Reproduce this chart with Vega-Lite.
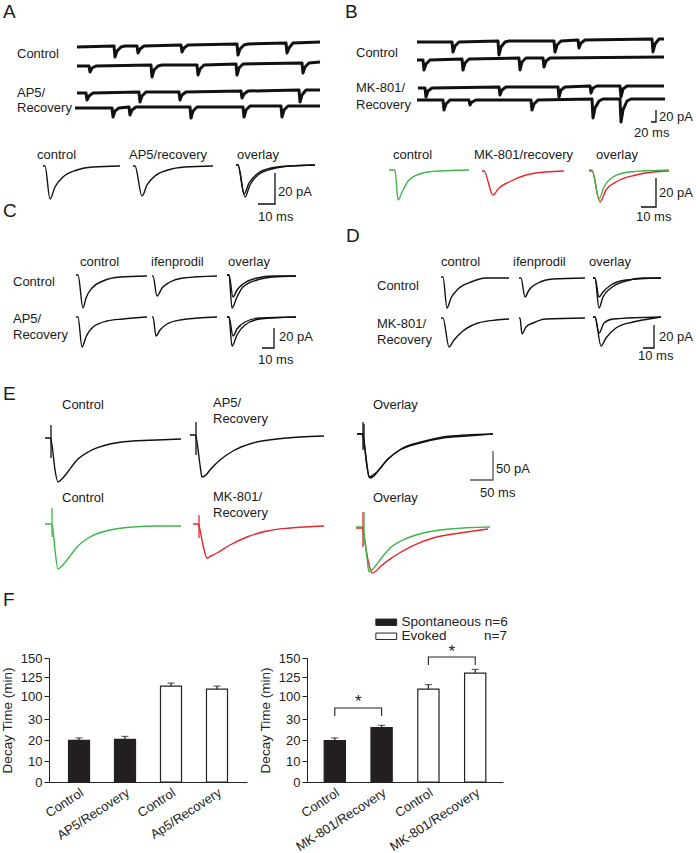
{
"$schema": "https://vega.github.io/schema/vega-lite/v6.json",
"padding": 0,
"background": "white",
"bounds": "flush",
"spacing": 0,
"config": {"view": {"stroke": null}, "font": "Liberation Sans"},
"datasets": {
"raw": [
{"s":"a1","x":77,"y":47},{"s":"a1","x":114,"y":46},{"s":"a1","x":115,"y":57},{"s":"a1","x":117,"y":51},{"s":"a1","x":121,"y":47},{"s":"a1","x":125,"y":46},{"s":"a1","x":137,"y":46},{"s":"a1","x":138,"y":53},{"s":"a1","x":140,"y":49},{"s":"a1","x":144,"y":46},{"s":"a1","x":181,"y":45},{"s":"a1","x":182,"y":52},{"s":"a1","x":184,"y":48},{"s":"a1","x":188,"y":45},{"s":"a1","x":237,"y":44},{"s":"a1","x":238,"y":55},{"s":"a1","x":240,"y":49},{"s":"a1","x":244,"y":45},{"s":"a1","x":248,"y":44},{"s":"a1","x":286,"y":43},{"s":"a1","x":287,"y":53},{"s":"a1","x":289,"y":48},{"s":"a1","x":293,"y":43},{"s":"a1","x":320,"y":42},
{"s":"a2","x":77,"y":66},{"s":"a2","x":89,"y":66},{"s":"a2","x":90,"y":72},{"s":"a2","x":92,"y":68},{"s":"a2","x":96,"y":66},{"s":"a2","x":151,"y":65},{"s":"a2","x":152,"y":77},{"s":"a2","x":154,"y":70},{"s":"a2","x":158,"y":66},{"s":"a2","x":162,"y":65},{"s":"a2","x":197,"y":65},{"s":"a2","x":198,"y":75},{"s":"a2","x":200,"y":69},{"s":"a2","x":204,"y":65},{"s":"a2","x":236,"y":64},{"s":"a2","x":237,"y":75},{"s":"a2","x":239,"y":68},{"s":"a2","x":243,"y":64},{"s":"a2","x":302,"y":63},{"s":"a2","x":303,"y":73},{"s":"a2","x":305,"y":67},{"s":"a2","x":309,"y":63},{"s":"a2","x":320,"y":62},
{"s":"a3","x":77,"y":93},{"s":"a3","x":86,"y":93},{"s":"a3","x":87,"y":100},{"s":"a3","x":89,"y":96},{"s":"a3","x":93,"y":93},{"s":"a3","x":139,"y":92},{"s":"a3","x":140,"y":102},{"s":"a3","x":142,"y":96},{"s":"a3","x":146,"y":92},{"s":"a3","x":150,"y":92},{"s":"a3","x":179,"y":92},{"s":"a3","x":180,"y":100},{"s":"a3","x":182,"y":95},{"s":"a3","x":186,"y":92},{"s":"a3","x":241,"y":91},{"s":"a3","x":242,"y":98},{"s":"a3","x":244,"y":94},{"s":"a3","x":248,"y":91},{"s":"a3","x":299,"y":90},{"s":"a3","x":300,"y":102},{"s":"a3","x":302,"y":95},{"s":"a3","x":306,"y":90},{"s":"a3","x":320,"y":90},
{"s":"a4","x":75,"y":108},{"s":"a4","x":112,"y":108},{"s":"a4","x":113,"y":117},{"s":"a4","x":115,"y":111},{"s":"a4","x":119,"y":108},{"s":"a4","x":129,"y":107},{"s":"a4","x":130,"y":115},{"s":"a4","x":132,"y":110},{"s":"a4","x":136,"y":107},{"s":"a4","x":190,"y":107},{"s":"a4","x":191,"y":118},{"s":"a4","x":193,"y":111},{"s":"a4","x":197,"y":107},{"s":"a4","x":243,"y":107},{"s":"a4","x":244,"y":117},{"s":"a4","x":246,"y":110},{"s":"a4","x":250,"y":106},{"s":"a4","x":281,"y":106},{"s":"a4","x":282,"y":117},{"s":"a4","x":284,"y":110},{"s":"a4","x":288,"y":106},{"s":"a4","x":320,"y":106},
{"s":"b1","x":417,"y":42},{"s":"b1","x":452,"y":42},{"s":"b1","x":453,"y":52},{"s":"b1","x":455,"y":46},{"s":"b1","x":459,"y":42},{"s":"b1","x":498,"y":41},{"s":"b1","x":499,"y":55},{"s":"b1","x":501,"y":47},{"s":"b1","x":505,"y":42},{"s":"b1","x":509,"y":41},{"s":"b1","x":554,"y":41},{"s":"b1","x":555,"y":52},{"s":"b1","x":557,"y":45},{"s":"b1","x":561,"y":41},{"s":"b1","x":578,"y":40},{"s":"b1","x":579,"y":48},{"s":"b1","x":581,"y":43},{"s":"b1","x":585,"y":40},{"s":"b1","x":652,"y":39},{"s":"b1","x":653,"y":52},{"s":"b1","x":655,"y":44},{"s":"b1","x":659,"y":39},{"s":"b1","x":664,"y":39},
{"s":"b2","x":417,"y":60},{"s":"b2","x":423,"y":60},{"s":"b2","x":424,"y":70},{"s":"b2","x":426,"y":64},{"s":"b2","x":430,"y":60},{"s":"b2","x":462,"y":59},{"s":"b2","x":463,"y":70},{"s":"b2","x":465,"y":63},{"s":"b2","x":469,"y":59},{"s":"b2","x":519,"y":58},{"s":"b2","x":520,"y":70},{"s":"b2","x":522,"y":62},{"s":"b2","x":526,"y":58},{"s":"b2","x":543,"y":58},{"s":"b2","x":544,"y":67},{"s":"b2","x":546,"y":61},{"s":"b2","x":550,"y":58},{"s":"b2","x":664,"y":57},
{"s":"b3","x":418,"y":88},{"s":"b3","x":425,"y":88},{"s":"b3","x":426,"y":97},{"s":"b3","x":428,"y":91},{"s":"b3","x":432,"y":88},{"s":"b3","x":499,"y":87},{"s":"b3","x":500,"y":95},{"s":"b3","x":502,"y":90},{"s":"b3","x":506,"y":87},{"s":"b3","x":558,"y":87},{"s":"b3","x":559,"y":97},{"s":"b3","x":561,"y":90},{"s":"b3","x":565,"y":87},{"s":"b3","x":590,"y":86},{"s":"b3","x":591,"y":93},{"s":"b3","x":593,"y":88},{"s":"b3","x":597,"y":86},{"s":"b3","x":620,"y":86},{"s":"b3","x":621,"y":97},{"s":"b3","x":623,"y":89},{"s":"b3","x":627,"y":86},{"s":"b3","x":664,"y":86},
{"s":"b4","x":417,"y":100},{"s":"b4","x":443,"y":100},{"s":"b4","x":444,"y":110},{"s":"b4","x":446,"y":104},{"s":"b4","x":450,"y":100},{"s":"b4","x":469,"y":100},{"s":"b4","x":470,"y":105},{"s":"b4","x":472,"y":102},{"s":"b4","x":476,"y":100},{"s":"b4","x":531,"y":100},{"s":"b4","x":532,"y":110},{"s":"b4","x":534,"y":104},{"s":"b4","x":538,"y":100},{"s":"b4","x":592,"y":99},{"s":"b4","x":593,"y":118},{"s":"b4","x":595,"y":108},{"s":"b4","x":599,"y":101},{"s":"b4","x":603,"y":99},{"s":"b4","x":620,"y":99},{"s":"b4","x":621,"y":122},{"s":"b4","x":623,"y":110},{"s":"b4","x":627,"y":101},{"s":"b4","x":631,"y":99},{"s":"b4","x":665,"y":99}
],
"avg": [
{"s":"A1","c":"k","x":43,"y":166},{"s":"A1","c":"k","x":45,"y":166},{"s":"A1","c":"k","x":50,"y":199},{"s":"A1","c":"k","x":55,"y":187},{"s":"A1","c":"k","x":63,"y":177},{"s":"A1","c":"k","x":77,"y":170},{"s":"A1","c":"k","x":93,"y":167},{"s":"A1","c":"k","x":120,"y":166},
{"s":"A2","c":"k","x":133,"y":166},{"s":"A2","c":"k","x":135,"y":166},{"s":"A2","c":"k","x":142,"y":196},{"s":"A2","c":"k","x":147,"y":185},{"s":"A2","c":"k","x":155,"y":176},{"s":"A2","c":"k","x":168,"y":170},{"s":"A2","c":"k","x":185,"y":167},{"s":"A2","c":"k","x":213,"y":166},
{"s":"A3","c":"k","x":236,"y":165},{"s":"A3","c":"k","x":238,"y":165},{"s":"A3","c":"k","x":245,"y":197},{"s":"A3","c":"k","x":250,"y":185},{"s":"A3","c":"k","x":258,"y":175},{"s":"A3","c":"k","x":272,"y":169},{"s":"A3","c":"k","x":290,"y":166},{"s":"A3","c":"k","x":315,"y":165},
{"s":"A4","c":"k","x":236,"y":165},{"s":"A4","c":"k","x":238,"y":165},{"s":"A4","c":"k","x":244,"y":194},{"s":"A4","c":"k","x":249,"y":183},{"s":"A4","c":"k","x":257,"y":174},{"s":"A4","c":"k","x":271,"y":168},{"s":"A4","c":"k","x":290,"y":166},{"s":"A4","c":"k","x":315,"y":165},
{"s":"B1","c":"g","x":389,"y":170},{"s":"B1","c":"g","x":395,"y":170},{"s":"B1","c":"g","x":398,"y":200},{"s":"B1","c":"g","x":403,"y":190},{"s":"B1","c":"g","x":409,"y":180},{"s":"B1","c":"g","x":423,"y":173},{"s":"B1","c":"g","x":439,"y":171},{"s":"B1","c":"g","x":469,"y":170},
{"s":"B2","c":"r","x":482,"y":171},{"s":"B2","c":"r","x":484,"y":171},{"s":"B2","c":"r","x":493,"y":195},{"s":"B2","c":"r","x":499,"y":188},{"s":"B2","c":"r","x":509,"y":182},{"s":"B2","c":"r","x":526,"y":175},{"s":"B2","c":"r","x":546,"y":172},{"s":"B2","c":"r","x":564,"y":171},
{"s":"B4","c":"r","x":589,"y":171},{"s":"B4","c":"r","x":592,"y":171},{"s":"B4","c":"r","x":600,"y":202},{"s":"B4","c":"r","x":606,"y":190},{"s":"B4","c":"r","x":616,"y":182},{"s":"B4","c":"r","x":636,"y":175},{"s":"B4","c":"r","x":653,"y":172},{"s":"B4","c":"r","x":669,"y":171},
{"s":"B3","c":"g","x":589,"y":170},{"s":"B3","c":"g","x":592,"y":170},{"s":"B3","c":"g","x":599,"y":199},{"s":"B3","c":"g","x":604,"y":187},{"s":"B3","c":"g","x":613,"y":177},{"s":"B3","c":"g","x":629,"y":172},{"s":"B3","c":"g","x":669,"y":170},
{"s":"C1","c":"k","x":76,"y":275},{"s":"C1","c":"k","x":78,"y":275},{"s":"C1","c":"k","x":83,"y":308},{"s":"C1","c":"k","x":86,"y":298},{"s":"C1","c":"k","x":92,"y":288},{"s":"C1","c":"k","x":103,"y":281},{"s":"C1","c":"k","x":120,"y":277},{"s":"C1","c":"k","x":147,"y":276},
{"s":"C2","c":"k","x":152,"y":276},{"s":"C2","c":"k","x":153,"y":276},{"s":"C2","c":"k","x":157,"y":296},{"s":"C2","c":"k","x":162,"y":288},{"s":"C2","c":"k","x":170,"y":282},{"s":"C2","c":"k","x":183,"y":278},{"s":"C2","c":"k","x":217,"y":276},
{"s":"C3","c":"k","x":227,"y":275},{"s":"C3","c":"k","x":229,"y":275},{"s":"C3","c":"k","x":232,"y":308},{"s":"C3","c":"k","x":237,"y":297},{"s":"C3","c":"k","x":243,"y":287},{"s":"C3","c":"k","x":257,"y":280},{"s":"C3","c":"k","x":273,"y":277},{"s":"C3","c":"k","x":296,"y":276},
{"s":"C4","c":"k","x":227,"y":275},{"s":"C4","c":"k","x":229,"y":275},{"s":"C4","c":"k","x":233,"y":297},{"s":"C4","c":"k","x":237,"y":290},{"s":"C4","c":"k","x":243,"y":284},{"s":"C4","c":"k","x":257,"y":278},{"s":"C4","c":"k","x":273,"y":276},{"s":"C4","c":"k","x":296,"y":276},
{"s":"C5","c":"k","x":76,"y":317},{"s":"C5","c":"k","x":78,"y":317},{"s":"C5","c":"k","x":82,"y":347},{"s":"C5","c":"k","x":86,"y":337},{"s":"C5","c":"k","x":93,"y":327},{"s":"C5","c":"k","x":107,"y":321},{"s":"C5","c":"k","x":123,"y":319},{"s":"C5","c":"k","x":147,"y":317},
{"s":"C6","c":"k","x":152,"y":317},{"s":"C6","c":"k","x":153,"y":317},{"s":"C6","c":"k","x":156,"y":336},{"s":"C6","c":"k","x":160,"y":330},{"s":"C6","c":"k","x":167,"y":324},{"s":"C6","c":"k","x":180,"y":320},{"s":"C6","c":"k","x":217,"y":317},
{"s":"C7","c":"k","x":227,"y":317},{"s":"C7","c":"k","x":229,"y":317},{"s":"C7","c":"k","x":232,"y":346},{"s":"C7","c":"k","x":237,"y":335},{"s":"C7","c":"k","x":245,"y":325},{"s":"C7","c":"k","x":260,"y":319},{"s":"C7","c":"k","x":296,"y":317},
{"s":"C8","c":"k","x":227,"y":317},{"s":"C8","c":"k","x":229,"y":317},{"s":"C8","c":"k","x":233,"y":336},{"s":"C8","c":"k","x":237,"y":329},{"s":"C8","c":"k","x":245,"y":322},{"s":"C8","c":"k","x":260,"y":318},{"s":"C8","c":"k","x":296,"y":317},
{"s":"D1","c":"k","x":441,"y":277},{"s":"D1","c":"k","x":443,"y":277},{"s":"D1","c":"k","x":447,"y":308},{"s":"D1","c":"k","x":451,"y":298},{"s":"D1","c":"k","x":458,"y":289},{"s":"D1","c":"k","x":471,"y":282},{"s":"D1","c":"k","x":486,"y":278},{"s":"D1","c":"k","x":509,"y":278},
{"s":"D2","c":"k","x":519,"y":278},{"s":"D2","c":"k","x":521,"y":278},{"s":"D2","c":"k","x":525,"y":297},{"s":"D2","c":"k","x":529,"y":290},{"s":"D2","c":"k","x":538,"y":283},{"s":"D2","c":"k","x":553,"y":279},{"s":"D2","c":"k","x":585,"y":278},
{"s":"D3","c":"k","x":593,"y":278},{"s":"D3","c":"k","x":595,"y":278},{"s":"D3","c":"k","x":599,"y":308},{"s":"D3","c":"k","x":603,"y":297},{"s":"D3","c":"k","x":611,"y":288},{"s":"D3","c":"k","x":626,"y":281},{"s":"D3","c":"k","x":643,"y":278},{"s":"D3","c":"k","x":661,"y":278},
{"s":"D4","c":"k","x":593,"y":278},{"s":"D4","c":"k","x":595,"y":278},{"s":"D4","c":"k","x":599,"y":297},{"s":"D4","c":"k","x":603,"y":292},{"s":"D4","c":"k","x":611,"y":285},{"s":"D4","c":"k","x":626,"y":280},{"s":"D4","c":"k","x":661,"y":278},
{"s":"D5","c":"k","x":441,"y":318},{"s":"D5","c":"k","x":443,"y":318},{"s":"D5","c":"k","x":449,"y":347},{"s":"D5","c":"k","x":454,"y":340},{"s":"D5","c":"k","x":463,"y":331},{"s":"D5","c":"k","x":478,"y":323},{"s":"D5","c":"k","x":496,"y":320},{"s":"D5","c":"k","x":509,"y":319},
{"s":"D6","c":"k","x":519,"y":318},{"s":"D6","c":"k","x":520,"y":318},{"s":"D6","c":"k","x":522,"y":334},{"s":"D6","c":"k","x":526,"y":327},{"s":"D6","c":"k","x":533,"y":323},{"s":"D6","c":"k","x":546,"y":319},{"s":"D6","c":"k","x":585,"y":318},
{"s":"D7","c":"k","x":593,"y":317},{"s":"D7","c":"k","x":595,"y":317},{"s":"D7","c":"k","x":601,"y":346},{"s":"D7","c":"k","x":606,"y":338},{"s":"D7","c":"k","x":616,"y":328},{"s":"D7","c":"k","x":633,"y":322},{"s":"D7","c":"k","x":649,"y":319},{"s":"D7","c":"k","x":661,"y":317},
{"s":"D8","c":"k","x":593,"y":317},{"s":"D8","c":"k","x":595,"y":317},{"s":"D8","c":"k","x":599,"y":333},{"s":"D8","c":"k","x":604,"y":323},{"s":"D8","c":"k","x":613,"y":319},{"s":"D8","c":"k","x":661,"y":317},
{"s":"E1","c":"k","x":45,"y":438},{"s":"E1","c":"k","x":50.5,"y":438},{"s":"E1","c":"k","x":52,"y":445},{"s":"E1","c":"k","x":55,"y":470},{"s":"E1","c":"k","x":58,"y":482},{"s":"E1","c":"k","x":62,"y":479},{"s":"E1","c":"k","x":67,"y":473},{"s":"E1","c":"k","x":77,"y":460},{"s":"E1","c":"k","x":90,"y":451},{"s":"E1","c":"k","x":110,"y":444},{"s":"E1","c":"k","x":133,"y":441},{"s":"E1","c":"k","x":157,"y":440},{"s":"E1","c":"k","x":181,"y":439},
{"s":"E2","c":"k","x":190,"y":435},{"s":"E2","c":"k","x":195.5,"y":435},{"s":"E2","c":"k","x":197,"y":442},{"s":"E2","c":"k","x":200,"y":465},{"s":"E2","c":"k","x":202,"y":477},{"s":"E2","c":"k","x":206,"y":475},{"s":"E2","c":"k","x":210,"y":470},{"s":"E2","c":"k","x":220,"y":460},{"s":"E2","c":"k","x":233,"y":451},{"s":"E2","c":"k","x":253,"y":443},{"s":"E2","c":"k","x":277,"y":439},{"s":"E2","c":"k","x":300,"y":437},{"s":"E2","c":"k","x":324,"y":436},
{"s":"E3","c":"k","x":357,"y":434},{"s":"E3","c":"k","x":362.5,"y":434},{"s":"E3","c":"k","x":364,"y":441},{"s":"E3","c":"k","x":367,"y":465},{"s":"E3","c":"k","x":369,"y":477},{"s":"E3","c":"k","x":373,"y":475},{"s":"E3","c":"k","x":377,"y":472},{"s":"E3","c":"k","x":387,"y":460},{"s":"E3","c":"k","x":400,"y":450},{"s":"E3","c":"k","x":420,"y":443},{"s":"E3","c":"k","x":443,"y":438},{"s":"E3","c":"k","x":467,"y":436},{"s":"E3","c":"k","x":493,"y":434},
{"s":"E4","c":"k","x":357,"y":434},{"s":"E4","c":"k","x":362.5,"y":434},{"s":"E4","c":"k","x":364,"y":442},{"s":"E4","c":"k","x":367,"y":467},{"s":"E4","c":"k","x":370,"y":478},{"s":"E4","c":"k","x":374,"y":476},{"s":"E4","c":"k","x":378,"y":471},{"s":"E4","c":"k","x":388,"y":459},{"s":"E4","c":"k","x":401,"y":449},{"s":"E4","c":"k","x":421,"y":442},{"s":"E4","c":"k","x":443,"y":437},{"s":"E4","c":"k","x":467,"y":435},{"s":"E4","c":"k","x":493,"y":434},
{"s":"E5","c":"g","x":45,"y":524},{"s":"E5","c":"g","x":51.5,"y":524},{"s":"E5","c":"g","x":53,"y":530},{"s":"E5","c":"g","x":55,"y":550},{"s":"E5","c":"g","x":58,"y":569},{"s":"E5","c":"g","x":62,"y":566},{"s":"E5","c":"g","x":67,"y":560},{"s":"E5","c":"g","x":77,"y":547},{"s":"E5","c":"g","x":90,"y":537},{"s":"E5","c":"g","x":110,"y":530},{"s":"E5","c":"g","x":133,"y":527},{"s":"E5","c":"g","x":157,"y":526},{"s":"E5","c":"g","x":181,"y":526},
{"s":"E6","c":"r","x":193,"y":524},{"s":"E6","c":"r","x":198.5,"y":524},{"s":"E6","c":"r","x":200,"y":530},{"s":"E6","c":"r","x":203,"y":545},{"s":"E6","c":"r","x":207,"y":558},{"s":"E6","c":"r","x":211,"y":556},{"s":"E6","c":"r","x":217,"y":553},{"s":"E6","c":"r","x":230,"y":545},{"s":"E6","c":"r","x":247,"y":537},{"s":"E6","c":"r","x":267,"y":531},{"s":"E6","c":"r","x":290,"y":528},{"s":"E6","c":"r","x":324,"y":526},
{"s":"E7","c":"r","x":356,"y":528},{"s":"E7","c":"r","x":362.5,"y":528},{"s":"E7","c":"r","x":364,"y":536},{"s":"E7","c":"r","x":368,"y":560},{"s":"E7","c":"r","x":372,"y":573},{"s":"E7","c":"r","x":376,"y":571},{"s":"E7","c":"r","x":380,"y":567},{"s":"E7","c":"r","x":393,"y":557},{"s":"E7","c":"r","x":410,"y":547},{"s":"E7","c":"r","x":433,"y":538},{"s":"E7","c":"r","x":460,"y":533},{"s":"E7","c":"r","x":488,"y":529},
{"s":"E8","c":"g","x":356,"y":527},{"s":"E8","c":"g","x":362.5,"y":527},{"s":"E8","c":"g","x":364,"y":534},{"s":"E8","c":"g","x":367,"y":558},{"s":"E8","c":"g","x":369,"y":572},{"s":"E8","c":"g","x":373,"y":569},{"s":"E8","c":"g","x":380,"y":560},{"s":"E8","c":"g","x":390,"y":548},{"s":"E8","c":"g","x":403,"y":540},{"s":"E8","c":"g","x":423,"y":533},{"s":"E8","c":"g","x":450,"y":529},{"s":"E8","c":"g","x":490,"y":527}
],
"sb": [
{"s":"sA","c":"k","x":258,"y":204},{"s":"sA","c":"k","x":275,"y":204},{"s":"sA","c":"k","x":275,"y":173},
{"s":"sB1","c":"k","x":651,"y":122},{"s":"sB1","c":"k","x":656,"y":122},{"s":"sB1","c":"k","x":656,"y":110},
{"s":"sB2","c":"k","x":641,"y":207},{"s":"sB2","c":"k","x":656,"y":207},{"s":"sB2","c":"k","x":656,"y":178},
{"s":"sC","c":"k","x":262,"y":348},{"s":"sC","c":"k","x":274,"y":348},{"s":"sC","c":"k","x":274,"y":328},
{"s":"sD","c":"k","x":643,"y":348},{"s":"sD","c":"k","x":654,"y":348},{"s":"sD","c":"k","x":654,"y":325},
{"s":"sE","c":"m","x":470,"y":480},{"s":"sE","c":"m","x":493,"y":480},{"s":"sE","c":"m","x":493,"y":451},
{"s":"x1","c":"k","x":51,"y":425},{"s":"x1","c":"k","x":51,"y":458},
{"s":"x2","c":"k","x":196,"y":422},{"s":"x2","c":"k","x":196,"y":455},
{"s":"x3","c":"k","x":363,"y":422},{"s":"x3","c":"k","x":363,"y":450},
{"s":"x4","c":"k","x":364,"y":424},{"s":"x4","c":"k","x":364,"y":448},
{"s":"x5","c":"g","x":52,"y":508},{"s":"x5","c":"g","x":52,"y":537},
{"s":"x6","c":"r","x":199,"y":515},{"s":"x6","c":"r","x":199,"y":538},
{"s":"x7","c":"r","x":363,"y":512},{"s":"x7","c":"r","x":363,"y":547},
{"s":"x8","c":"g","x":364,"y":512},{"s":"x8","c":"g","x":364,"y":545}
],
"letters": [
{"t":"A","x":3,"y":12},{"t":"B","x":345,"y":12},{"t":"C","x":3,"y":211},{"t":"D","x":346,"y":236},{"t":"E","x":3,"y":394},{"t":"F","x":3,"y":600}
],
"labels": [
{"t":"Control","x":17,"y":54},{"t":"AP5/","x":17,"y":93},{"t":"Recovery","x":17,"y":108},{"t":"control","x":37,"y":155},{"t":"AP5/recovery","x":129,"y":155},{"t":"overlay","x":237,"y":155},{"t":"20 pA","x":278,"y":192},{"t":"10 ms","x":258,"y":217},
{"t":"Control","x":356,"y":53},{"t":"MK-801/","x":356,"y":88},{"t":"Recovery","x":356,"y":105},{"t":"20 pA","x":659,"y":117},{"t":"20 ms","x":634,"y":133},{"t":"control","x":393,"y":155},{"t":"MK-801/recovery","x":474,"y":155},{"t":"overlay","x":596,"y":155},{"t":"20 pA","x":659,"y":193},{"t":"10 ms","x":636,"y":217},
{"t":"control","x":80,"y":262},{"t":"ifenprodil","x":151,"y":262},{"t":"overlay","x":228,"y":262},{"t":"Control","x":13,"y":282},{"t":"AP5/","x":13,"y":319},{"t":"Recovery","x":13,"y":335},{"t":"20 pA","x":279,"y":337},{"t":"10 ms","x":258,"y":360},
{"t":"control","x":441,"y":262},{"t":"ifenprodil","x":513,"y":262},{"t":"overlay","x":589,"y":262},{"t":"Control","x":377,"y":286},{"t":"MK-801/","x":377,"y":324},{"t":"Recovery","x":377,"y":340},{"t":"20 pA","x":659,"y":337},{"t":"10 ms","x":638,"y":356},
{"t":"Control","x":62,"y":405},{"t":"AP5/","x":213,"y":403},{"t":"Recovery","x":213,"y":419},{"t":"Overlay","x":373,"y":405},{"t":"50 pA","x":496,"y":469},{"t":"50 ms","x":480,"y":493},
{"t":"Control","x":62,"y":498},{"t":"MK-801/","x":213,"y":497},{"t":"Recovery","x":213,"y":513},{"t":"Overlay","x":373,"y":498}
],
"fleft": [
{"cond":"Control|S","kind":"Spontaneous","mean":19.8,"hi":21.0},
{"cond":"AP5/Recovery|S","kind":"Spontaneous","mean":20.3,"hi":21.7},
{"cond":"Control|E","kind":"Evoked","mean":113,"hi":117},
{"cond":"Ap5/Recovery|E","kind":"Evoked","mean":109,"hi":113}
],
"fright": [
{"cond":"Control|S","kind":"Spontaneous","mean":19.7,"hi":21.0},
{"cond":"MK-801/Recovery|S","kind":"Spontaneous","mean":25.9,"hi":27.0},
{"cond":"Control|E","kind":"Evoked","mean":109,"hi":115},
{"cond":"MK-801/Recovery|E","kind":"Evoked","mean":130,"hi":135}
],
"brackets": [
{"b":"s","cond":"Control|S","v":39},{"b":"s","cond":"Control|S","v":63.5},{"b":"s","cond":"MK-801/Recovery|S","v":63.5},{"b":"s","cond":"MK-801/Recovery|S","v":39},
{"b":"e","cond":"Control|E","v":140.8},{"b":"e","cond":"Control|E","v":151.3},{"b":"e","cond":"MK-801/Recovery|E","v":151.3},{"b":"e","cond":"MK-801/Recovery|E","v":140.8}
],
"stars": [
{"cond":"Control|S","v":66,"t":"*"},{"cond":"Control|E","v":151.5,"t":"*"}
]
},
"vconcat": [
{
"width": 696, "height": 658,
"encoding": {
"x": {"field": "x", "type": "quantitative", "scale": {"domain": [0, 696], "nice": false, "zero": false}, "axis": null},
"y": {"field": "y", "type": "quantitative", "scale": {"domain": [0, 658], "nice": false, "zero": false, "reverse": true}, "axis": null}
},
"layer": [
{"data": {"name": "raw"}, "mark": {"type": "line", "color": "#111111", "strokeWidth": 3, "strokeJoin": "round"}, "encoding": {"detail": {"field": "s"}, "order": {"value": null}}},
{"data": {"name": "avg"}, "mark": {"type": "line", "interpolate": "monotone", "strokeWidth": 1.4}, "encoding": {"detail": {"field": "s"}, "color": {"field": "c", "type": "nominal", "scale": {"domain": ["k", "g", "r", "m"], "range": ["#111111", "#3cb64a", "#e8262d", "#555555"]}, "legend": null}, "order": {"value": null}}},
{"data": {"name": "sb"}, "mark": {"type": "line", "strokeWidth": 1.3}, "encoding": {"detail": {"field": "s"}, "color": {"field": "c", "type": "nominal", "legend": null}, "order": {"value": null}}},
{"data": {"name": "letters"}, "mark": {"type": "text", "fontSize": 19, "align": "left", "baseline": "middle", "color": "#1a1a1a"}, "encoding": {"text": {"field": "t"}}},
{"data": {"name": "labels"}, "mark": {"type": "text", "fontSize": 13, "align": "left", "baseline": "middle", "color": "#1a1a1a"}, "encoding": {"text": {"field": "t"}}}
]
},
{
"resolve": {"scale": {"fill": "independent", "x": "independent", "y": "independent"}, "legend": {"fill": "independent"}},
"hconcat": [
{"width": 49, "height": 124, "data": {"values": [{"t": ""}]}, "mark": {"type": "text"}, "encoding": {"text": {"field": "t"}}},
{
"width": 198, "height": 124,
"data": {"name": "fleft"},
"encoding": {
"x": {"field": "cond", "type": "nominal", "scale": {"domain": ["Control|S", "AP5/Recovery|S", "Control|E", "Ap5/Recovery|E"], "paddingInner": 0.543, "paddingOuter": 0.424}, "axis": {"title": null, "ticks": false, "labelAngle": -33, "labelFontSize": 13, "labelPadding": 4, "labelColor": "#222", "domainColor": "#222", "labelExpr": "split(datum.label, '|')[0]"}}
},
"layer": [
{"mark": {"type": "bar", "stroke": "#222", "strokeWidth": 1.2}, "encoding": {
"y": {"field": "mean", "type": "quantitative", "scale": {"domain": [0, 30, 100, 150], "range": [124, 61, 38, 0], "nice": false, "zero": false}, "axis": {"values": [0, 10, 20, 30, 100, 125, 150], "tickCount": 20, "labelOverlap": false, "labelFlush": false, "title": "Decay Time (min)", "titleFontSize": 13.5, "titleFontWeight": "normal", "titlePadding": 6, "titleColor": "#222", "tickSize": 5, "labelFontSize": 13, "labelPadding": 2, "labelColor": "#222", "tickColor": "#222", "domainColor": "#222", "grid": false}},
"fill": {"field": "kind", "type": "nominal", "scale": {"domain": ["Spontaneous", "Evoked"], "range": ["#231f20", "#ffffff"]}, "legend": null}}},
{"mark": {"type": "rule", "color": "#222", "strokeWidth": 1.2}, "encoding": {"x": {"field": "cond", "type": "nominal", "bandPosition": 0.5}, "y": {"field": "mean", "type": "quantitative"}, "y2": {"field": "hi"}}},
{"mark": {"type": "tick", "color": "#222", "thickness": 1.2, "size": 7}, "encoding": {"x": {"field": "cond", "type": "nominal", "bandPosition": 0.5}, "y": {"field": "hi", "type": "quantitative"}}}
]
},
{"width": 60, "height": 124, "data": {"values": [{"t": ""}]}, "mark": {"type": "text"}, "encoding": {"text": {"field": "t"}}},
{
"width": 196, "height": 124,
"encoding": {
"x": {"field": "cond", "type": "nominal", "scale": {"domain": ["Control|S", "MK-801/Recovery|S", "Control|E", "MK-801/Recovery|E"], "paddingInner": 0.546, "paddingOuter": 0.367}, "axis": {"title": null, "ticks": false, "labelAngle": -33, "labelFontSize": 13, "labelPadding": 4, "labelColor": "#222", "domainColor": "#222", "labelExpr": "split(datum.label, '|')[0]"}}
},
"layer": [
{"data": {"name": "fright"}, "mark": {"type": "bar", "stroke": "#222", "strokeWidth": 1.2}, "encoding": {
"y": {"field": "mean", "type": "quantitative", "scale": {"domain": [0, 30, 100, 150], "range": [124, 61, 38, 0], "nice": false, "zero": false}, "axis": {"values": [0, 10, 20, 30, 100, 125, 150], "tickCount": 20, "labelOverlap": false, "labelFlush": false, "title": "Decay Time (min)", "titleFontSize": 13.5, "titleFontWeight": "normal", "titlePadding": 6, "titleColor": "#222", "tickSize": 5, "labelFontSize": 13, "labelPadding": 2, "labelColor": "#222", "tickColor": "#222", "domainColor": "#222", "grid": false}},
"fill": {"field": "kind", "type": "nominal", "scale": {"domain": ["Spontaneous", "Evoked"], "range": ["#231f20", "#ffffff"]}, "legend": {"orient": "none", "legendX": 72.5, "legendY": -42.5, "title": null, "symbolType": "M-2.6,-0.8H2.6V0.8H-2.6Z", "symbolSize": 64, "symbolStrokeColor": "#222", "symbolStrokeWidth": 1, "labelFontSize": 13.5, "labelColor": "#222", "labelOffset": 8.5, "rowPadding": -1.5, "padding": 0, "labelExpr": "datum.label == 'Spontaneous' ? 'Spontaneous n=6' : 'Evoked\u00a0\u00a0\u00a0\u00a0\u00a0\u00a0\u00a0\u00a0\u00a0\u00a0n=7'"}}}},
{"data": {"name": "fright"}, "mark": {"type": "rule", "color": "#222", "strokeWidth": 1.2}, "encoding": {"x": {"field": "cond", "type": "nominal", "bandPosition": 0.5}, "y": {"field": "mean", "type": "quantitative"}, "y2": {"field": "hi"}}},
{"data": {"name": "fright"}, "mark": {"type": "tick", "color": "#222", "thickness": 1.2, "size": 7}, "encoding": {"x": {"field": "cond", "type": "nominal", "bandPosition": 0.5}, "y": {"field": "hi", "type": "quantitative"}}},
{"data": {"name": "brackets"}, "mark": {"type": "line", "color": "#222", "strokeWidth": 1.1}, "encoding": {"x": {"field": "cond", "type": "nominal", "bandPosition": 0.5}, "y": {"field": "v", "type": "quantitative"}, "detail": {"field": "b"}, "order": {"value": null}}},
{"data": {"name": "stars"}, "mark": {"type": "text", "fontSize": 17, "dx": 23.5, "align": "center", "baseline": "alphabetic", "color": "#222"}, "encoding": {"x": {"field": "cond", "type": "nominal", "bandPosition": 0.5}, "y": {"field": "v", "type": "quantitative"}, "text": {"field": "t"}}}
]
}
],
"spacing": 0,
"bounds": "flush"
}
]
}
